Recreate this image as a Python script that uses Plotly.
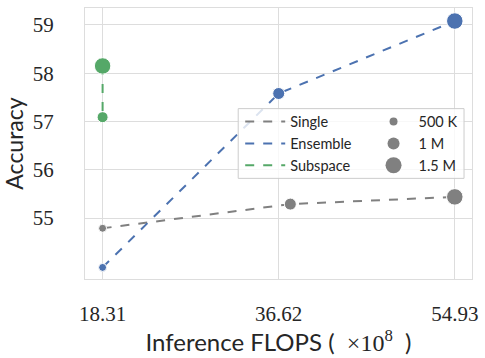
import plotly.graph_objects as go

flops_ticks = [18.31, 36.62, 54.93]
tick_text = ["18.31", "36.62", "54.93"]
acc_ticks = [55, 56, 57, 58, 59]

single_x = [18.31, 37.83, 54.93]
single_y = [54.79, 55.29, 55.44]
single_sz = [8, 12, 16.5]

ensemble_x = [18.31, 36.62, 54.93]
ensemble_y = [53.98, 57.58, 59.08]
ensemble_sz = [8, 12, 16.5]

subspace_x = [18.31, 18.31]
subspace_y = [58.15, 57.09]
subspace_sz = [16.5, 11]

size_labels = ["500 K", "1 M", "1.5 M"]
size_vals = [8, 12, 16.5]

GREY = "#808080"
BLUE = "#4C72B0"
GREEN = "#55A868"
SANS = "Lato, DejaVu Sans, sans-serif"
SERIF = "Liberation Serif, DejaVu Serif, serif"
TXT = "#262626"

fig = go.Figure()
for name, xs, ys, sz, col in [
    ("Single", single_x, single_y, single_sz, GREY),
    ("Ensemble", ensemble_x, ensemble_y, ensemble_sz, BLUE),
    ("Subspace", subspace_x, subspace_y, subspace_sz, GREEN),
]:
    fig.add_trace(go.Scatter(x=xs, y=ys, mode="lines+markers",
                             line=dict(color=col, width=2, dash="dash"),
                             marker=dict(color=col, size=sz, opacity=1),
                             showlegend=False, hoverinfo="skip"))
    fig.add_trace(go.Scatter(x=[None], y=[None], mode="lines", name=name,
                             line=dict(color=col, width=2, dash="dash"),
                             legend="legend"))

for lab, s in zip(size_labels, size_vals):
    fig.add_trace(go.Scatter(x=[None], y=[None], mode="markers", name=lab,
                             marker=dict(color=GREY, size=s),
                             legend="legend2"))

L, R, T, B = 85, 11, 7, 79
W, H = 485, 358
pw, ph = W - L - R, H - T - B

def px(xp):
    return (xp - L) / pw

def py(yp):
    return (H - B - yp) / ph

fig.add_shape(type="rect", xref="paper", yref="paper",
              x0=px(239), x1=px(466), y0=py(178), y1=py(108),
              fillcolor="rgba(255,255,255,0.8)", line=dict(color="#cccccc", width=1),
              layer="above")

grid = "#dddddd"
xtitle = ("Inference FLOPS (\u00a0 <span style='font-family:Liberation Serif;font-size:24px'>"
          "×10<sup>8</sup></span>\u00a0 )")
fig.update_layout(
    width=W, height=H,
    margin=dict(l=L, r=R, t=T, b=B),
    plot_bgcolor="white", paper_bgcolor="white",
    font=dict(family=SANS, color=TXT),
    xaxis=dict(range=[16.48, 56.72], tickvals=flops_ticks, ticktext=tick_text,
               showgrid=True, gridcolor=grid, gridwidth=1,
               showline=True, linecolor=grid, linewidth=1, mirror=True,
               zeroline=False, ticks="", ticklabelstandoff=16,
               tickfont=dict(family=SERIF, size=21, color=TXT),
               title=dict(text=xtitle,
                          font=dict(family=SANS, size=24, color=TXT), standoff=0)),
    yaxis=dict(range=[53.74, 59.35], tickvals=acc_ticks,
               showgrid=True, gridcolor=grid, gridwidth=1,
               showline=True, linecolor=grid, linewidth=1, mirror=True,
               zeroline=False, ticks="", ticklabelstandoff=26,
               tickfont=dict(family=SERIF, size=21, color=TXT),
               title=dict(text="Accuracy", font=dict(family=SANS, size=23, color=TXT),
                          standoff=6)),
    legend=dict(x=px(241), y=py(105), xanchor="left", yanchor="top",
                bgcolor="rgba(0,0,0,0)", borderwidth=0,
                font=dict(family=SANS, size=14.5, color=TXT), itemwidth=40,
                tracegroupgap=0),
    legend2=dict(x=px(370), y=py(105), xanchor="left", yanchor="top",
                 bgcolor="rgba(0,0,0,0)", borderwidth=0,
                 font=dict(family=SANS, size=14.5, color=TXT), itemwidth=40,
                 itemsizing="trace", tracegroupgap=0),
)

fig.write_html("out.html", config={"displayModeBar": False},
               post_script="document.body.style.margin='0';")
